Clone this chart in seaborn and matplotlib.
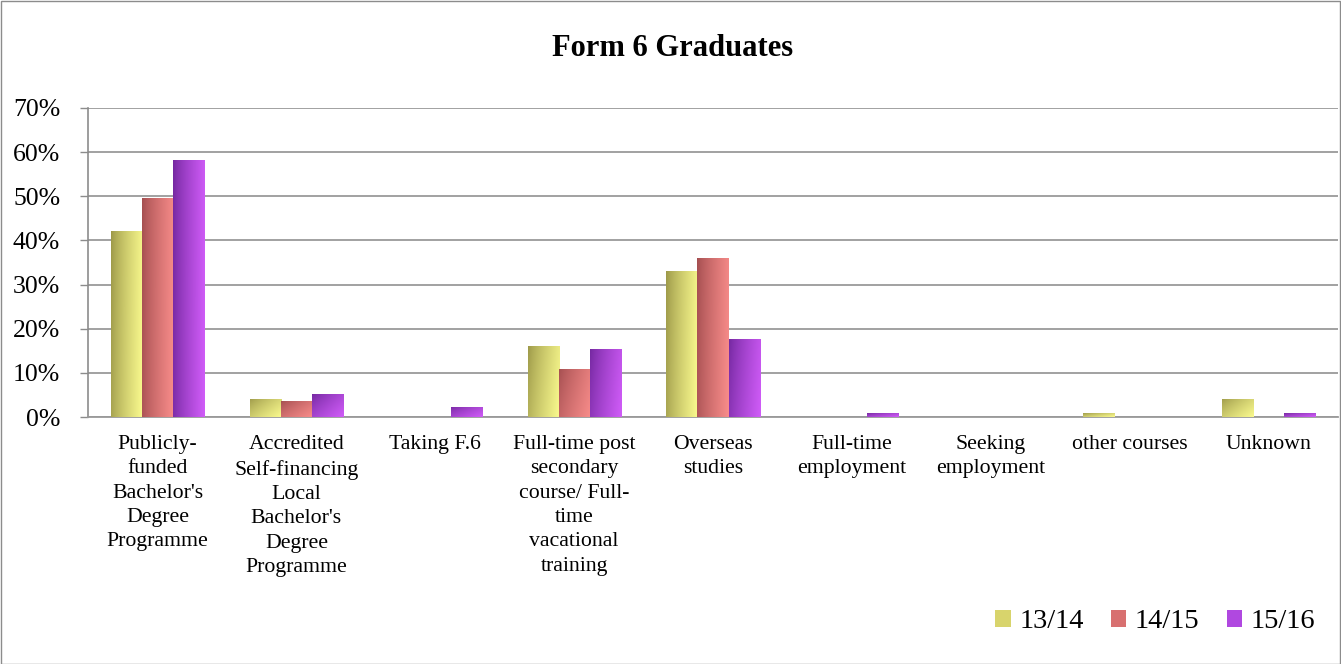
import numpy as np
import pandas as pd
import matplotlib
matplotlib.use("Agg")
import matplotlib.pyplot as plt
import seaborn as sns
from matplotlib.patches import Rectangle, Patch
from matplotlib.colors import to_rgb

categories = [
    "Publicly-\nfunded\nBachelor's\nDegree\nProgramme",
    "Accredited\nSelf-financing\nLocal\nBachelor's\nDegree\nProgramme",
    "Taking F.6",
    "Full-time post\nsecondary\ncourse/ Full-\ntime\nvacational\ntraining",
    "Overseas\nstudies",
    "Full-time\nemployment",
    "Seeking\nemployment",
    "other courses",
    "Unknown",
]
series_names = ["13/14", "14/15", "15/16"]
v1314 = [42.2, 4.1, 0.0, 16.1, 33.1, 0.0, 0.0, 0.9, 4.1]
v1415 = [49.7, 3.6, 0.0, 10.9, 36.1, 0.0, 0.0, 0.0, 0.0]
v1516 = [58.3, 5.2, 2.3, 15.4, 17.7, 0.9, 0.0, 0.0, 0.9]
yticks = [0, 10, 20, 30, 40, 50, 60, 70]
ytick_labels = ["0%", "10%", "20%", "30%", "40%", "50%", "60%", "70%"]

dark_cols = ["#9c9848", "#a44e50", "#7428a0"]
light_cols = ["#fafa8e", "#f88c8a", "#d05cf8"]
mid_cols = ["#d8d46c", "#d87070", "#b048e0"]

rows = []
for name, vals in zip(series_names, [v1314, v1415, v1516]):
    for c, v in zip(categories, vals):
        rows.append({"cat": c, "series": name, "value": v})
df = pd.DataFrame(rows)

sns.set_style("white")
serif = ["Liberation Serif", "DejaVu Serif"]
plt.rcParams["font.family"] = serif
plt.rcParams["text.color"] = "black"
plt.rcParams["xtick.color"] = "black"
plt.rcParams["ytick.color"] = "black"

fig = plt.figure(figsize=(13.41, 6.64), dpi=100)
ax = fig.add_axes([88 / 1341, 1 - 417 / 664, 1250 / 1341, 309 / 664])

sns.barplot(data=df, x="cat", y="value", hue="series", palette=mid_cols,
            width=0.67, ax=ax, legend=False, saturation=1, linewidth=0, zorder=3)

ax.set_ylim(0, 70)
ax.set_xlim(-0.5, len(categories) - 0.5)

# gradient fill for bars
nbar = len(categories)
for i, p in enumerate(ax.patches):
    s = i // nbar
    h = p.get_height()
    if h <= 0:
        p.set_visible(False)
        continue
    x0, w = p.get_x(), p.get_width()
    nx, ny = 40, 200
    xf = np.linspace(0, 1, nx)[None, :]
    yf = np.linspace(1, 0, ny)[:, None]
    hpx = h * 309 / 70
    ky = min(0.35, 0.35 * 40 / max(hpx, 1)) if hpx > 40 else 0.45
    t = np.clip((1 - ky) * xf + ky * (1 - yf), 0, 1)
    t = t ** 0.8
    d = np.array(to_rgb(dark_cols[s]))
    l = np.array(to_rgb(light_cols[s]))
    img = d[None, None, :] * (1 - t[..., None]) + l[None, None, :] * t[..., None]
    im = ax.imshow(img, extent=(x0, x0 + w, 0, h), aspect="auto",
                   origin="upper", zorder=4, interpolation="bilinear")
    im.set_clip_path(p)

ax.set_xlim(-0.5, len(categories) - 0.5)
ax.set_ylim(0, 70)

ax.set_yticks(yticks)
ax.set_yticklabels(ytick_labels, fontsize=18.5, family=serif, color="black")
ax.yaxis.grid(True, color="#9a9a9a", linewidth=1.3, zorder=0)
ax.set_axisbelow(True)
ax.tick_params(axis="y", left=True, length=6, width=1.0, color="#8c8c8c", pad=14)
ax.tick_params(axis="x", bottom=False, length=0, pad=13)
ax.set_xticklabels(categories, fontsize=15.7, family=serif, linespacing=1.38,
                   va="top", color="black")
ax.set_xlabel("")
ax.set_ylabel("")
for side in ["top", "right"]:
    ax.spines[side].set_visible(False)
ax.spines["left"].set_color("#8c8c8c")
ax.spines["left"].set_linewidth(1.2)
ax.spines["bottom"].set_color("#9a9a9a")
ax.spines["bottom"].set_linewidth(1.3)

fig.text(673 / 1341, 1 - 49 / 664, "Form 6 Graduates", ha="center", va="center",
         fontsize=22, fontweight="bold", family=serif, color="black")

handles = [Patch(facecolor=c, edgecolor="none") for c in mid_cols]
leg = fig.legend(handles, series_names, loc="center right",
                 bbox_to_anchor=(1341 / 1341, 1 - 622 / 664), ncol=3, frameon=False,
                 prop={"family": serif, "size": 20.5}, handlelength=0.55,
                 handleheight=0.55, handletextpad=0.3, columnspacing=0.95)
for tx in leg.get_texts():
    tx.set_color("black")

fig.patches.append(Rectangle((0.5 / 1341, 0.5 / 664), 1 - 1.5 / 1341, 1 - 1.5 / 664,
                             transform=fig.transFigure, fill=False,
                             edgecolor="#8c8c8c", linewidth=1.0))

fig.savefig("out.png", dpi=100)
